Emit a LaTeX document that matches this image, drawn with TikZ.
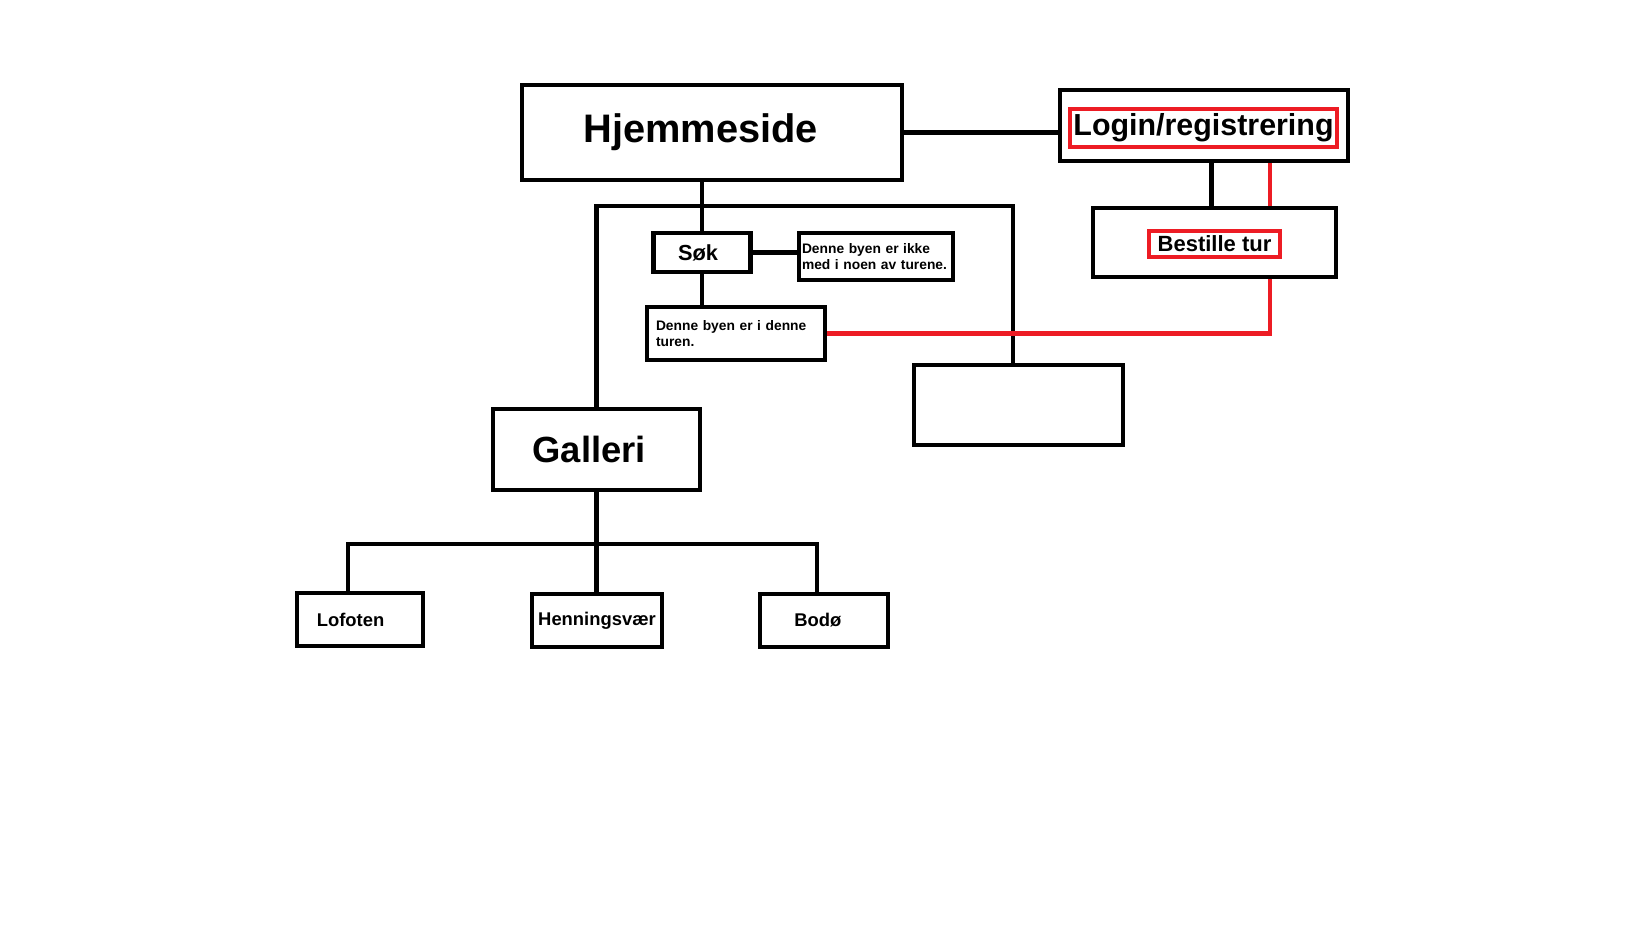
\documentclass[tikz,border=0pt]{standalone}
\usepackage{fontspec}
\setmainfont{Liberation Sans}
\definecolor{paintred}{RGB}{237,28,36}

\begin{document}
\begin{tikzpicture}[x=0.5pt, y=-0.5pt, line width=2.25pt,
    box/.style={draw, rectangle, inner sep=0pt, font=\bfseries},
    redbox/.style={draw=paintred, rectangle, inner sep=0pt, font=\bfseries},
    notebox/.style={draw, rectangle, inner xsep=1.5pt, inner ysep=0pt, align=left, font=\bfseries\fontsize{6.9}{8.3}\selectfont}]
    \useasboundingbox (0,0) rectangle (1631,935);
    % top row
    \node[box, minimum width=190pt, minimum height=47.5pt] (hjem) at (712,132.5) {\fontsize{19.9}{24}\selectfont Hjemmeside\hspace*{11.4pt}};
    \node[box, minimum width=144pt, minimum height=35.5pt] (loginbox) at (1204,125.5) {};
    \node[redbox, minimum width=133.5pt, minimum height=19pt] (login) at (1203.5,128) {\fontsize{15.2}{18}\selectfont Login/registrering};
    \node[box, minimum width=121.5pt, minimum height=34.5pt] (bestbox) at (1214.5,242.5) {};
    \node[redbox, minimum width=65.5pt, minimum height=13pt] (bestille) at (1214.5,244) {\fontsize{11}{13}\selectfont Bestille tur};
    % search
    \node[box, minimum width=48.5pt, minimum height=19.5pt] (sok) at (702,252.5) {\fontsize{10.9}{13}\selectfont Søk\hspace*{4pt}};
    \node[notebox, text width=74pt, minimum height=23.5pt] (ikke) at (876,256.5) {Denne byen er ikke\\med i noen av turene.};
    \node[notebox, inner xsep=4.5pt, text width=80pt, minimum height=26.5pt] (turen) at (736,333.5) {Denne byen er i denne\\turen.};
    \node[box, minimum width=104.5pt, minimum height=40pt] (empty) at (1018.5,405) {};
    % gallery
    \node[box, minimum width=103.5pt, minimum height=40.5pt] (galleri) at (596.5,449.5) {\fontsize{18.2}{22}\selectfont Galleri\hspace*{7.3pt}};
    \node[box, minimum width=63pt, minimum height=26.5pt] (lofoten) at (360,619.5) {\fontsize{9.2}{11}\selectfont Lofoten\hspace*{9.4pt}};
    \node[box, minimum width=65pt, minimum height=26.5pt] (henning) at (597,620.5) {\fontsize{9.2}{11}\selectfont Henningsvær};
    \node[box, minimum width=64pt, minimum height=26.5pt] (bodo) at (824,620.5) {\fontsize{9.2}{11}\selectfont Bodø\hspace*{6.2pt}};

    \coordinate (busR) at (1013,206);
    \coordinate (gl) at (348,544);
    \coordinate (gr) at (817,544);
    \coordinate (blacktop) at ([xshift=-1.5pt]bestbox.north);
    \coordinate (redtop) at ([xshift=27.75pt]bestbox.north);
    \coordinate (redbot) at ([xshift=27.75pt]bestbox.south);

    \draw (hjem.east) -- (hjem.east -| loginbox.west);
    \draw (hjem.south -| sok.north) -- (sok.north);
    \draw (galleri.north) |- (busR) -- (busR |- empty.north);
    \draw (sok.east) -- (sok.east -| ikke.west);
    \draw (sok.south) -- (sok.south |- turen.north);
    \draw (blacktop) -- (blacktop |- loginbox.south);
    \draw (gl |- lofoten.north) -- (gl) -- (gr) -- (gr |- bodo.north);
    \draw (galleri.south) -- (galleri.south |- henning.north);
    % red route
    \draw[paintred] (redtop) -- (redtop |- loginbox.south);
    \draw[paintred] (redbot) |- (turen.east);
\end{tikzpicture}
\end{document}
